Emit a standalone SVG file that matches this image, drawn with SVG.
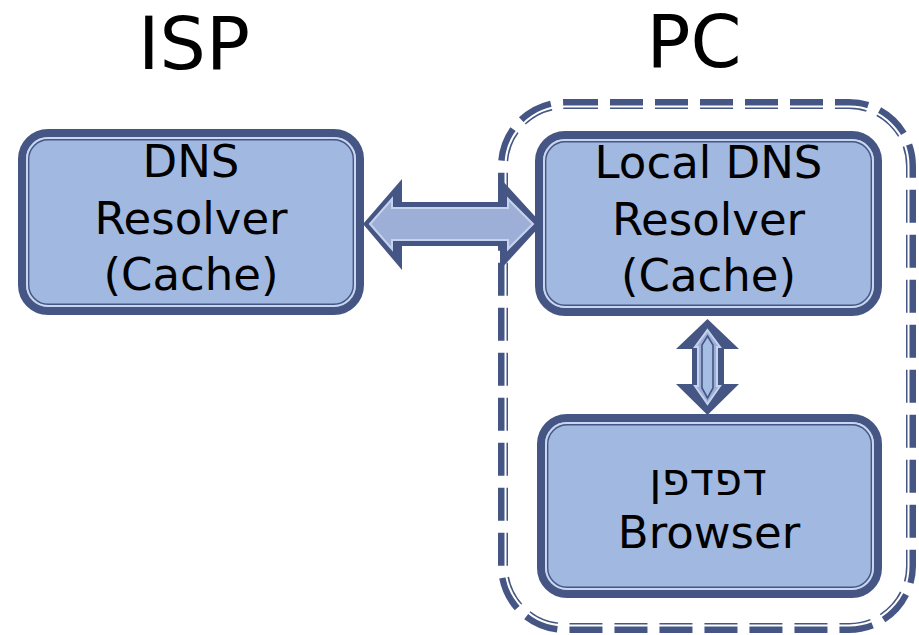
<svg xmlns="http://www.w3.org/2000/svg" width="919" height="635" viewBox="0 0 919 635">
  <style>
    .title { font-family: "DejaVu Sans", "Liberation Sans", sans-serif; font-size: 73px; fill: #000; text-anchor: middle; }
    .lbl { font-family: "DejaVu Sans", "Liberation Sans", sans-serif; font-size: 45px; fill: #000; text-anchor: middle; }
    .b-out { fill: #a1b9e1; stroke: #465684; stroke-width: 8; }
    .b-lt { fill: none; stroke: #c9d6ef; stroke-width: 2; }
    .b-in { fill: none; stroke: #465684; stroke-width: 1.4; }
    .a-out { fill: #465684; }
    .a-in { fill: #9dafd7; stroke: #c6d3ee; stroke-width: 2; stroke-linejoin: miter; }
    .a-core { fill: #a6bde4; stroke: #465684; stroke-width: 1.6; stroke-linejoin: miter; }
  </style>

  <!-- column headings -->
  <text class="title" x="194" y="69">ISP</text>
  <text class="title" x="694" y="67">PC</text>

  <!-- PC boundary: double dashed rounded frame -->
  <g id="pc-boundary">
    <rect x="503" y="104" width="408" height="524" rx="62" fill="none" stroke="#465684" stroke-width="10" stroke-dasharray="33 12"/>
    <rect x="505.5" y="106.5" width="403" height="519" rx="59.5" fill="none" stroke="#ffffff" stroke-width="2"/>
  </g>

  <g id="connectors">
    <!-- ISP resolver <-> local resolver -->
    <polygon class="a-out" points="363,224 402,179 402,202 500,202 500,178 542,224 500,270 500,246 402,246 402,270"/>
    <polygon class="a-in" points="370,224 392,199 392,208 508,208 508,199 533,224 508,249 508,240 392,240 392,249"/>
    <!-- local resolver <-> browser -->
    <polygon class="a-out" points="707.5,319 739,349 724,349 724,384 739,384 707.5,415 676,384 692,384 692,349 676,349"/>
    <polygon class="a-in" points="707.5,330 720,347 717,347 717,386 720,386 707.5,404 695,386 698,386 698,347 695,347"/>
    <polygon class="a-core" points="707.5,336 713,345 713,388 707.5,398 702,388 702,345"/>
  </g>

  <g id="isp-resolver">
    <rect class="b-out" x="22" y="133" width="338" height="178" rx="26"/>
    <rect class="b-lt" x="27" y="138" width="328" height="168" rx="21"/>
    <rect class="b-in" x="28.7" y="139.7" width="324.6" height="164.6" rx="19.5"/>
    <text class="lbl" x="191" y="177">DNS</text>
    <text class="lbl" x="191" y="234">Resolver</text>
    <text class="lbl" x="191" y="290">(Cache)</text>
  </g>

  <g id="local-resolver">
    <rect class="b-out" x="539" y="135" width="339" height="177" rx="26"/>
    <rect class="b-lt" x="544" y="140" width="329" height="167" rx="21"/>
    <rect class="b-in" x="545.7" y="141.7" width="325.6" height="163.6" rx="19.5"/>
    <text class="lbl" x="708.5" y="178">Local DNS</text>
    <text class="lbl" x="708.5" y="235">Resolver</text>
    <text class="lbl" x="708.5" y="291">(Cache)</text>
  </g>

  <g id="browser">
    <rect class="b-out" x="541" y="418" width="337" height="176" rx="26"/>
    <rect class="b-lt" x="546" y="423" width="327" height="166" rx="21"/>
    <rect class="b-in" x="547.7" y="424.7" width="323.6" height="162.6" rx="19.5"/>
    <text class="lbl" x="708" y="495">דפדפן</text>
    <text class="lbl" x="709" y="548">Browser</text>
  </g>
</svg>
